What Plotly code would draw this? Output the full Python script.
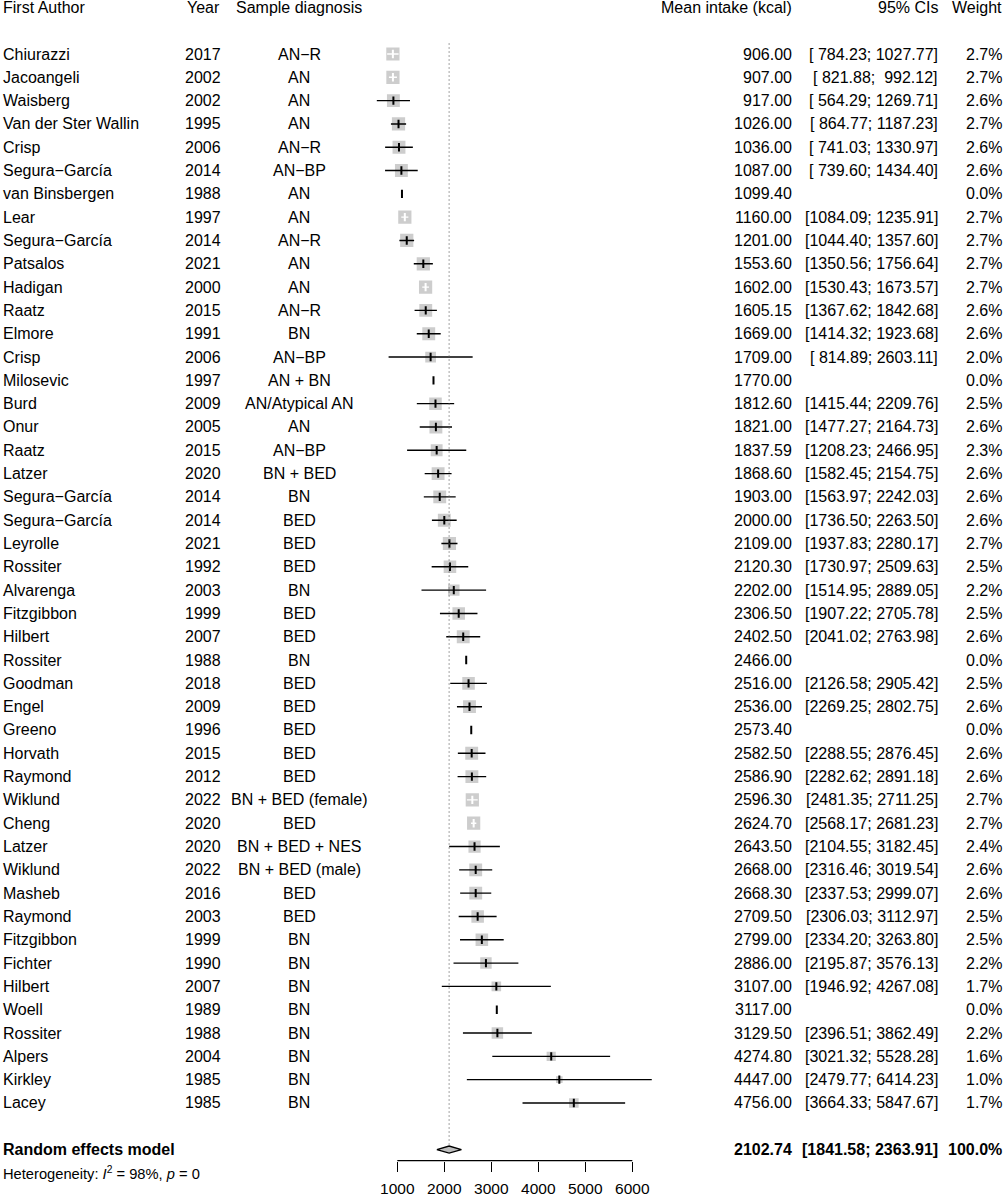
import plotly.graph_objects as go

# ---- data ----
authors = ["Chiurazzi", "Jacoangeli", "Waisberg", "Van der Ster Wallin", "Crisp", "Segura\u2212García",
           "van Binsbergen", "Lear", "Segura\u2212García", "Patsalos", "Hadigan", "Raatz", "Elmore",
           "Crisp", "Milosevic", "Burd", "Onur", "Raatz", "Latzer", "Segura\u2212García",
           "Segura\u2212García", "Leyrolle", "Rossiter", "Alvarenga", "Fitzgibbon", "Hilbert",
           "Rossiter", "Goodman", "Engel", "Greeno", "Horvath", "Raymond", "Wiklund", "Cheng",
           "Latzer", "Wiklund", "Masheb", "Raymond", "Fitzgibbon", "Fichter", "Hilbert", "Woell",
           "Rossiter", "Alpers", "Kirkley", "Lacey"]
years = [2017, 2002, 2002, 1995, 2006, 2014, 1988, 1997, 2014, 2021, 2000, 2015, 1991, 2006, 1997,
         2009, 2005, 2015, 2020, 2014, 2014, 2021, 1992, 2003, 1999, 2007, 1988, 2018, 2009, 1996,
         2015, 2012, 2022, 2020, 2020, 2022, 2016, 2003, 1999, 1990, 2007, 1989, 1988, 2004, 1985,
         1985]
diagnosis = ["AN\u2212R", "AN", "AN", "AN", "AN\u2212R", "AN\u2212BP", "AN", "AN", "AN\u2212R", "AN",
             "AN", "AN\u2212R", "BN", "AN\u2212BP", "AN + BN", "AN/Atypical AN", "AN", "AN\u2212BP",
             "BN + BED", "BN", "BED", "BED", "BED", "BN", "BED", "BED", "BN", "BED", "BED", "BED",
             "BED", "BED", "BN + BED (female)", "BED", "BN + BED + NES", "BN + BED (male)", "BED",
             "BED", "BN", "BN", "BN", "BN", "BN", "BN", "BN", "BN"]
means = [906.00, 907.00, 917.00, 1026.00, 1036.00, 1087.00, 1099.40, 1160.00, 1201.00, 1553.60,
         1602.00, 1605.15, 1669.00, 1709.00, 1770.00, 1812.60, 1821.00, 1837.59, 1868.60, 1903.00,
         2000.00, 2109.00, 2120.30, 2202.00, 2306.50, 2402.50, 2466.00, 2516.00, 2536.00, 2573.40,
         2582.50, 2586.90, 2596.30, 2624.70, 2643.50, 2668.00, 2668.30, 2709.50, 2799.00, 2886.00,
         3107.00, 3117.00, 3129.50, 4274.80, 4447.00, 4756.00]
ci_low = [784.23, 821.88, 564.29, 864.77, 741.03, 739.60, None, 1084.09, 1044.40, 1350.56,
          1530.43, 1367.62, 1414.32, 814.89, None, 1415.44, 1477.27, 1208.23, 1582.45, 1563.97,
          1736.50, 1937.83, 1730.97, 1514.95, 1907.22, 2041.02, None, 2126.58, 2269.25, None,
          2288.55, 2282.62, 2481.35, 2568.17, 2104.55, 2316.46, 2337.53, 2306.03, 2334.20, 2195.87,
          1946.92, None, 2396.51, 3021.32, 2479.77, 3664.33]
ci_high = [1027.77, 992.12, 1269.71, 1187.23, 1330.97, 1434.40, None, 1235.91, 1357.60, 1756.64,
           1673.57, 1842.68, 1923.68, 2603.11, None, 2209.76, 2164.73, 2466.95, 2154.75, 2242.03,
           2263.50, 2280.17, 2509.63, 2889.05, 2705.78, 2763.98, None, 2905.42, 2802.75, None,
           2876.45, 2891.18, 2711.25, 2681.23, 3182.45, 3019.54, 2999.07, 3112.97, 3263.80, 3576.13,
           4267.08, None, 3862.49, 5528.28, 6414.23, 5847.67]
weights = [2.7, 2.7, 2.6, 2.7, 2.6, 2.6, 0.0, 2.7, 2.7, 2.7, 2.7, 2.6, 2.6, 2.0, 0.0, 2.5, 2.6,
           2.3, 2.6, 2.6, 2.6, 2.7, 2.5, 2.2, 2.5, 2.6, 0.0, 2.5, 2.6, 0.0, 2.6, 2.6, 2.7, 2.7, 2.4,
           2.6, 2.6, 2.5, 2.5, 2.2, 1.7, 0.0, 2.2, 1.6, 1.0, 1.7]

re_mean, re_low, re_high = 2102.74, 1841.58, 2363.91
re_weight = 100.0
i2 = 98
p_value = 0
axis_ticks = [1000, 2000, 3000, 4000, 5000, 6000]

# ---- layout helpers (pixel geometry of the page) ----
W, H = 1005, 1200
PX_PER_UNIT = 0.047          # pixels per kcal
X1000_PX = 397.3             # pixel of the 1000 tick
ROW0_PX, ROW_STEP = 54, 23.31
FONT = "Liberation Sans, Arial, sans-serif"
NB = "\u00a0"

n = len(authors)
rows = list(range(n))
re_row = n + 1
het_row = n + 2
head_row = -2
axis_row = (1160.7 - ROW0_PX) / ROW_STEP


def fmt_ci(lo, hi):
    if lo is None:
        return ""
    return ("[" + f"{lo:7.2f}" + "; " + f"{hi:7.2f}" + "]").replace(" ", NB)


side = [6.6 * w ** 0.7 if w > 0 else 0 for w in weights]
inside = [lo is not None and (hi - lo) * PX_PER_UNIT < s
          for lo, hi, s in zip(ci_low, ci_high, side)]

fig = go.Figure()

# squares
sq = [i for i in rows if weights[i] > 0]
fig.add_trace(go.Scatter(
    x=[means[i] for i in sq], y=sq, mode="markers",
    marker=dict(symbol="square", size=[side[i] for i in sq], color="#b8b8b8", line=dict(width=0))))

# confidence intervals
for flag, col in [(False, "black"), (True, "white")]:
    xs, ys = [], []
    for i in rows:
        if ci_low[i] is not None and inside[i] == flag:
            xs += [ci_low[i], ci_high[i], None]
            ys += [i, i, None]
    fig.add_trace(go.Scatter(x=xs, y=ys, mode="lines", line=dict(color=col, width=1.4)))
    idx = [i for i in rows if inside[i] == flag]
    fig.add_trace(go.Scatter(
        x=[means[i] for i in idx], y=idx, mode="markers",
        marker=dict(symbol="line-ns", size=6, line=dict(color=col, width=2))))

# reference line at the pooled estimate
fig.add_trace(go.Scatter(x=[re_mean, re_mean], y=[-0.45, re_row - 0.15], mode="lines",
                         line=dict(color="#666666", width=1.2, dash="1px,3px")))

# pooled diamond
dh = 0.15
fig.add_trace(go.Scatter(
    x=[re_low, re_mean, re_high, re_mean, re_low],
    y=[re_row, re_row - dh, re_row, re_row + dh, re_row],
    mode="lines", fill="toself", fillcolor="#bdbdbd", line=dict(color="black", width=1.4)))

# axis line
fig.add_trace(go.Scatter(x=[axis_ticks[0], axis_ticks[-1]], y=[axis_row, axis_row], mode="lines",
                         line=dict(color="black", width=1.3)))

# ---- text columns ----
ann = []


def txt(x_px, row, text, anchor, size=16, bold=False):
    if bold:
        text = "<b>" + text + "</b>"
    ann.append(dict(x=x_px / W, y=row, xref="paper", yref="y", text=text, showarrow=False,
                    xanchor=anchor, yanchor="middle", borderpad=0,
                    font=dict(size=size, color="black", family=FONT)))


txt(2, head_row, "First Author", "left")
txt(203, head_row, "Year", "center")
txt(299, head_row, "Sample diagnosis", "center")
txt(793, head_row, "Mean intake (kcal)", "right")
txt(939, head_row, "95% CIs", "right")
txt(1003, head_row, "Weight", "right")

for i in rows:
    txt(2, i, authors[i], "left")
    txt(203, i, str(years[i]), "center")
    txt(299, i, diagnosis[i], "center")
    txt(793, i, f"{means[i]:.2f}", "right")
    if ci_low[i] is not None:
        txt(939, i, fmt_ci(ci_low[i], ci_high[i]), "right")
    txt(1003, i, f"{weights[i]:.1f}%", "right")

txt(2, re_row, "Random effects model", "left", bold=True)
txt(793, re_row, f"{re_mean:.2f}", "right", bold=True)
txt(939, re_row, fmt_ci(re_low, re_high), "right", bold=True)
txt(1003, re_row, f"{re_weight:.1f}%", "right", bold=True)
txt(2, het_row, f"Heterogeneity: <i>I</i><sup>2</sup> = {i2}%, <i>p</i> = {p_value}", "left", size=14.7)

x_lo, x_hi = 0, 7000
d0 = (X1000_PX - 1000 * PX_PER_UNIT) / W
d1 = (X1000_PX + (x_hi - 1000) * PX_PER_UNIT) / W

fig.update_layout(
    width=W, height=H, margin=dict(l=0, r=0, t=0, b=0),
    paper_bgcolor="white", plot_bgcolor="white", showlegend=False,
    annotations=ann,
    xaxis=dict(range=[x_lo, x_hi], domain=[d0, d1], anchor="free", position=1 - 1160.7 / H,
               showgrid=False, zeroline=False, showline=False,
               tickmode="array", tickvals=axis_ticks, ticks="outside", ticklen=10,
               tickwidth=1.3, tickcolor="black", ticklabelstandoff=4,
               tickfont=dict(size=15.5, color="black", family=FONT)),
    yaxis=dict(range=[(H - ROW0_PX) / ROW_STEP, -ROW0_PX / ROW_STEP], domain=[0, 1],
               visible=False, showgrid=False, zeroline=False),
)

# drop the browser's default 8px body margin so the figure sits at the page corner
fig.write_html("out.html", config={"displayModeBar": False},
               post_script="document.body.style.margin='0';")
